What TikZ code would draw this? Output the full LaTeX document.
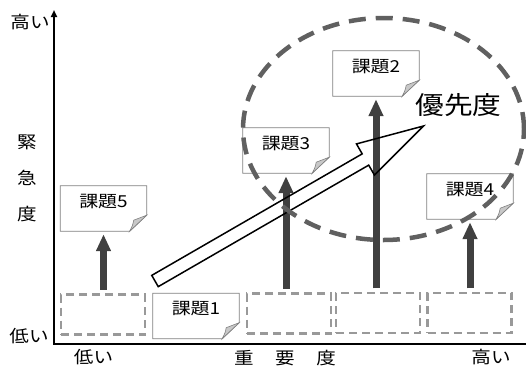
\documentclass[tikz,border=0pt]{standalone}
\usepackage{fontspec}
\newfontfamily\jp[FakeStretch=1.15]{Noto Sans CJK JP}
\usetikzlibrary{arrows.meta}
\definecolor{boxgray}{HTML}{999999}
\definecolor{darkarrow}{HTML}{404040}
\definecolor{ellgray}{HTML}{606060}
\definecolor{notegray}{HTML}{808080}
\definecolor{foldgray}{HTML}{C8C8C8}
\begin{document}
\begin{tikzpicture}[x=1pt,y=-1pt,
  axisline/.style={line width=1.8pt, black, line join=miter},
  slot/.style={draw=boxgray, line width=2.4pt, dash pattern=on 8pt off 5pt, minimum width=84pt, minimum height=40pt, inner sep=0pt},
  note/.style={minimum width=86pt, minimum height=45pt, inner sep=0pt, text height=10pt, text depth=13pt, font=\jp\fontsize{16.5}{16.5}\selectfont},
  noteline/.style={draw=notegray, line width=0.8pt},
  fold/.style={fill=foldgray, draw=notegray, line width=0.6pt},
  uparrow/.style={draw=darkarrow, line width=7pt, -{Triangle[width=14pt,length=17pt]}, shorten <=3.5pt, shorten >=3pt},
  hollow/.style={draw=black, line width=1.5pt, line join=miter},
  ellline/.style={draw=ellgray, line width=4.5pt, dash pattern=on 17pt off 10pt},
  axlab/.style={font=\jp\fontsize{17}{17}\selectfont, inner sep=0pt}
]
\useasboundingbox (0,0) rectangle (526,367);

% axes
\coordinate (O) at (54,344);
\coordinate (ytop) at (54,10);
\coordinate (xend) at (526,344);
\draw[axisline, -{Triangle[width=6pt,length=7pt]}] (xend) -- (O) -- (ytop);

% dashed slots
\node[slot] (b1) at (103,314.5) {};
\node[slot] (b3) at (289,313.5) {};
\node[slot] (b4) at (378,313) {};
\node[slot] (b5) at (469.5,313) {};

% notes
\node[note] (n5) at (103.5,208.5) {課題5};
\node[note] (n1) at (196,316) {課題1};
\node[note] (n3) at (286,150.5) {課題3};
\node[note] (n2) at (376,73.5) {課題2};
\node[note] (n4) at (470,196.5) {課題4};

\foreach \n in {n1,n2,n3,n4,n5}{
  \draw[noteline] (\n.north west) -- (\n.north east) -- ([yshift=16pt]\n.south east) -- ([xshift=-17pt]\n.south east) -- (\n.south west) -- cycle;
  \draw[fold] ([yshift=16pt]\n.south east) .. controls ([xshift=-6pt,yshift=13pt]\n.south east) .. ([xshift=-13pt,yshift=11pt]\n.south east) .. controls ([xshift=-14pt,yshift=6pt]\n.south east) .. ([xshift=-17pt]\n.south east) -- cycle;
}

% dark arrows
\draw[uparrow] (b1.north -| n5.south) -- (n5.south);
\draw[uparrow] (b3.north -| n3.south) -- (n3.south);
\draw[uparrow] (b4.north -| n2.south) -- (n2.south);
\draw[uparrow] (b5.north -| n4.south) -- (n4.south);

% hollow priority arrow
\begin{scope}[shift={(155,281)}, rotate=30]
  \draw[hollow] (0,6.5) coordinate (ptail) -- (243,6.5) -- (243,18) -- (310,0) coordinate (ptip) -- (243,-18) -- (243,-6.5) -- (0,-6.5) -- cycle;
\end{scope}

% dashed ellipse
\draw[ellline] (383.5,129) ellipse [x radius=140.5pt, y radius=111pt];

% labels
\node[axlab] (yhigh) at (30,22) {高い};
\node[axlab] (ylow) at (29,336) {低い};
\node[axlab, align=center, font=\jp\fontsize{17}{36}\selectfont] (ylab) at (27,178) {緊\\急\\度};
\node[axlab] (xlow) at (93.5,357) {低い};
\node[axlab] (xlab) at (285,358) {重\hspace{21.5pt}要\hspace{21.5pt}度};
\node[axlab] (xhigh) at (491,357) {高い};
\node[font=\jp\fontsize{25}{25}\selectfont, inner sep=0pt] (prio) at (458.5,105) {優先度};
\end{tikzpicture}
\end{document}
